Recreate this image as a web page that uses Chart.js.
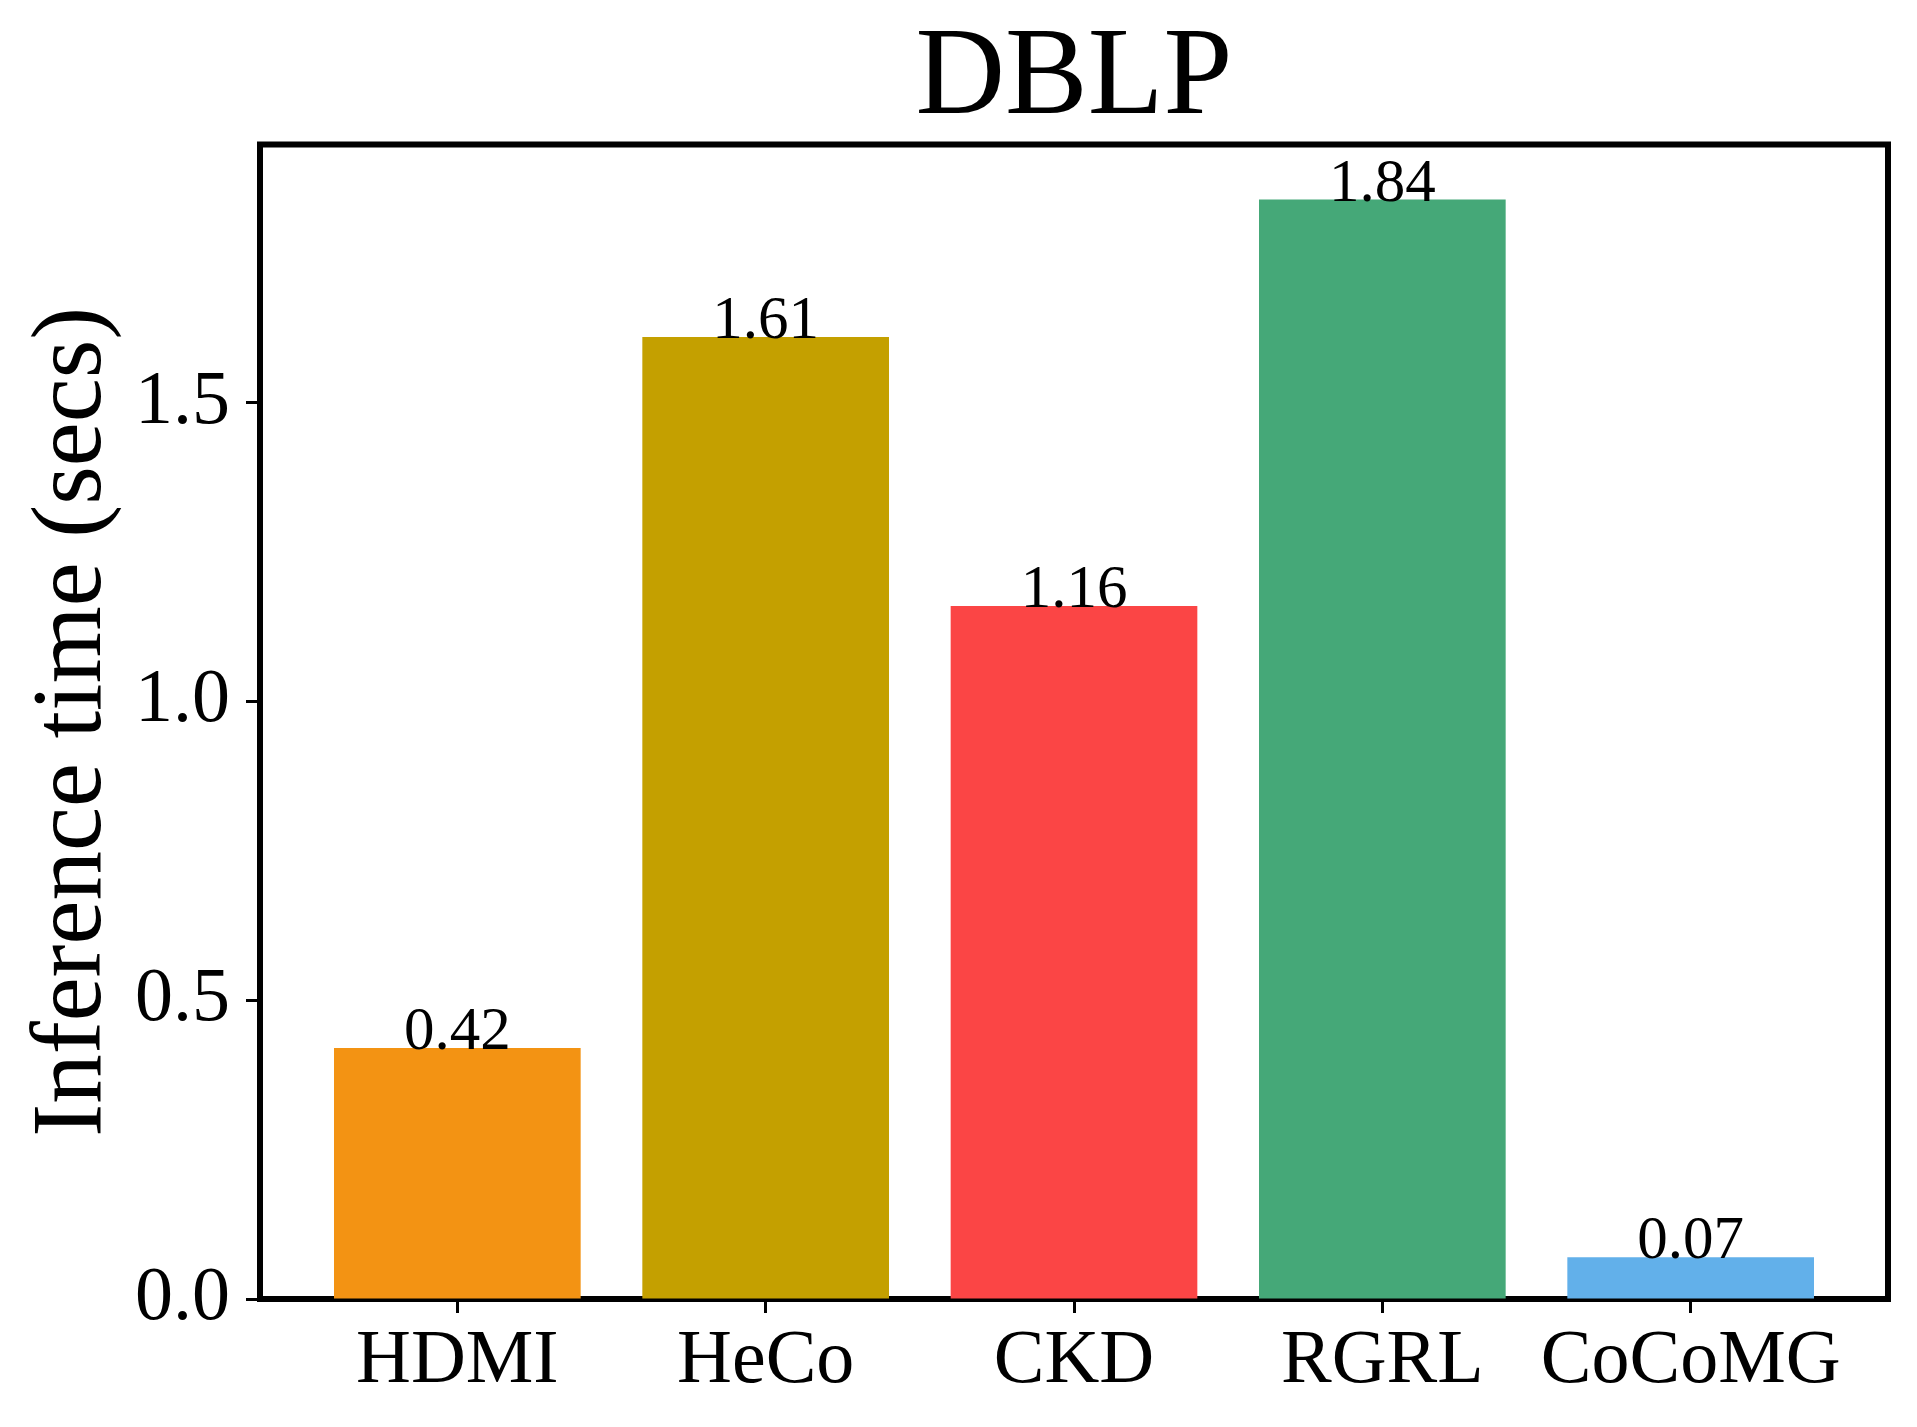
<!DOCTYPE html>
<html>
<head>
<meta charset="utf-8">
<script src="https://cdn.jsdelivr.net/npm/chart.js@4"></script>
<style>
  html, body { margin: 0; padding: 0; background: #fff; }
  canvas { display: block; }
</style>
</head>
<body>
<canvas id="chart" width="1917" height="1427"></canvas>
<script>
// DBLP inference time per model
const methods = ["HDMI", "HeCo", "CKD", "RGRL", "CoCoMG"];
const inferenceSecs = [0.42, 1.61, 1.16, 1.84, 0.07];
const barColors = ["#F39313", "#C4A000", "#FB4545", "#45A878", "#62B0EA"];
const yTickValues = [0.0, 0.5, 1.0, 1.5];

const SERIF = "'Liberation Serif', 'Times New Roman', serif";
const FRAME_WIDTH = 6;

// labels above each bar
const valueLabels = {
  id: "valueLabels",
  afterDatasetsDraw(chart) {
    const ctx = chart.ctx;
    const meta = chart.getDatasetMeta(0);
    ctx.save();
    ctx.font = "61px " + SERIF;
    ctx.fillStyle = "#000";
    ctx.textAlign = "center";
    ctx.textBaseline = "alphabetic";
    meta.data.forEach((bar, i) => {
      ctx.fillText(inferenceSecs[i].toFixed(2), bar.x, bar.y + 1);
    });
    ctx.restore();
  }
};

// top + right spines (left/bottom come from the axes)
const frame = {
  id: "frame",
  afterDraw(chart) {
    const { left, right, top, bottom } = chart.chartArea;
    const ctx = chart.ctx;
    ctx.save();
    ctx.strokeStyle = "#000";
    ctx.lineWidth = FRAME_WIDTH;
    ctx.lineCap = "square";
    ctx.beginPath();
    ctx.moveTo(left, top);
    ctx.lineTo(right, top);
    ctx.lineTo(right, bottom);
    ctx.stroke();
    ctx.restore();
  }
};

new Chart(document.getElementById("chart"), {
  type: "bar",
  data: {
    datasets: [{
      data: inferenceSecs.map((v, i) => ({ x: i, y: v })),
      backgroundColor: barColors,
      borderWidth: 0,
      categoryPercentage: 1.0,
      barPercentage: 0.8
    }]
  },
  options: {
    responsive: false,
    devicePixelRatio: 1,
    animation: false,
    layout: { padding: { left: 0, right: 29, top: 0, bottom: 0 } },
    plugins: {
      legend: { display: false },
      tooltip: { enabled: false },
      title: {
        display: true,
        fullSize: false,
        text: "DBLP",
        color: "#000",
        font: { family: SERIF, size: 124, weight: "normal", lineHeight: 0.9 },
        padding: { top: 25, bottom: 8 }
      }
    },
    scales: {
      x: {
        type: "linear",
        min: -0.64,
        max: 4.64,
        offset: false,
        z: 1,
        afterBuildTicks: (scale) => { scale.ticks = methods.map((_, i) => ({ value: i })); },
        afterFit: (scale) => { scale.height = 128; },
        ticks: {
          callback: (value) => methods[Math.round(value)],
          color: "#000",
          font: { family: SERIF, size: 76 },
          padding: 3,
          maxRotation: 0,
          autoSkip: false
        },
        grid: {
          display: true,
          offset: false,
          drawOnChartArea: false,
          drawTicks: true,
          tickLength: 14,
          tickWidth: 3,
          tickColor: "#000"
        },
        border: { display: true, color: "#000", width: FRAME_WIDTH }
      },
      y: {
        min: 0,
        max: Math.max(...inferenceSecs) * 1.05,
        z: 1,
        afterBuildTicks: (scale) => { scale.ticks = yTickValues.map(v => ({ value: v })); },
        afterFit: (scale) => { scale.width = 260; },
        ticks: {
          callback: (value) => value.toFixed(1),
          color: "#000",
          font: { family: SERIF, size: 76 },
          padding: 16
        },
        grid: {
          display: true,
          drawOnChartArea: false,
          drawTicks: true,
          tickLength: 14,
          tickWidth: 3,
          tickColor: "#000"
        },
        border: { display: true, color: "#000", width: FRAME_WIDTH },
        title: {
          display: true,
          text: "Inference time (secs)",
          color: "#000",
          font: { family: SERIF, size: 99, lineHeight: 1 },
          padding: { top: 24, bottom: 0 }
        }
      }
    }
  },
  plugins: [valueLabels, frame]
});
</script>
</body>
</html>
